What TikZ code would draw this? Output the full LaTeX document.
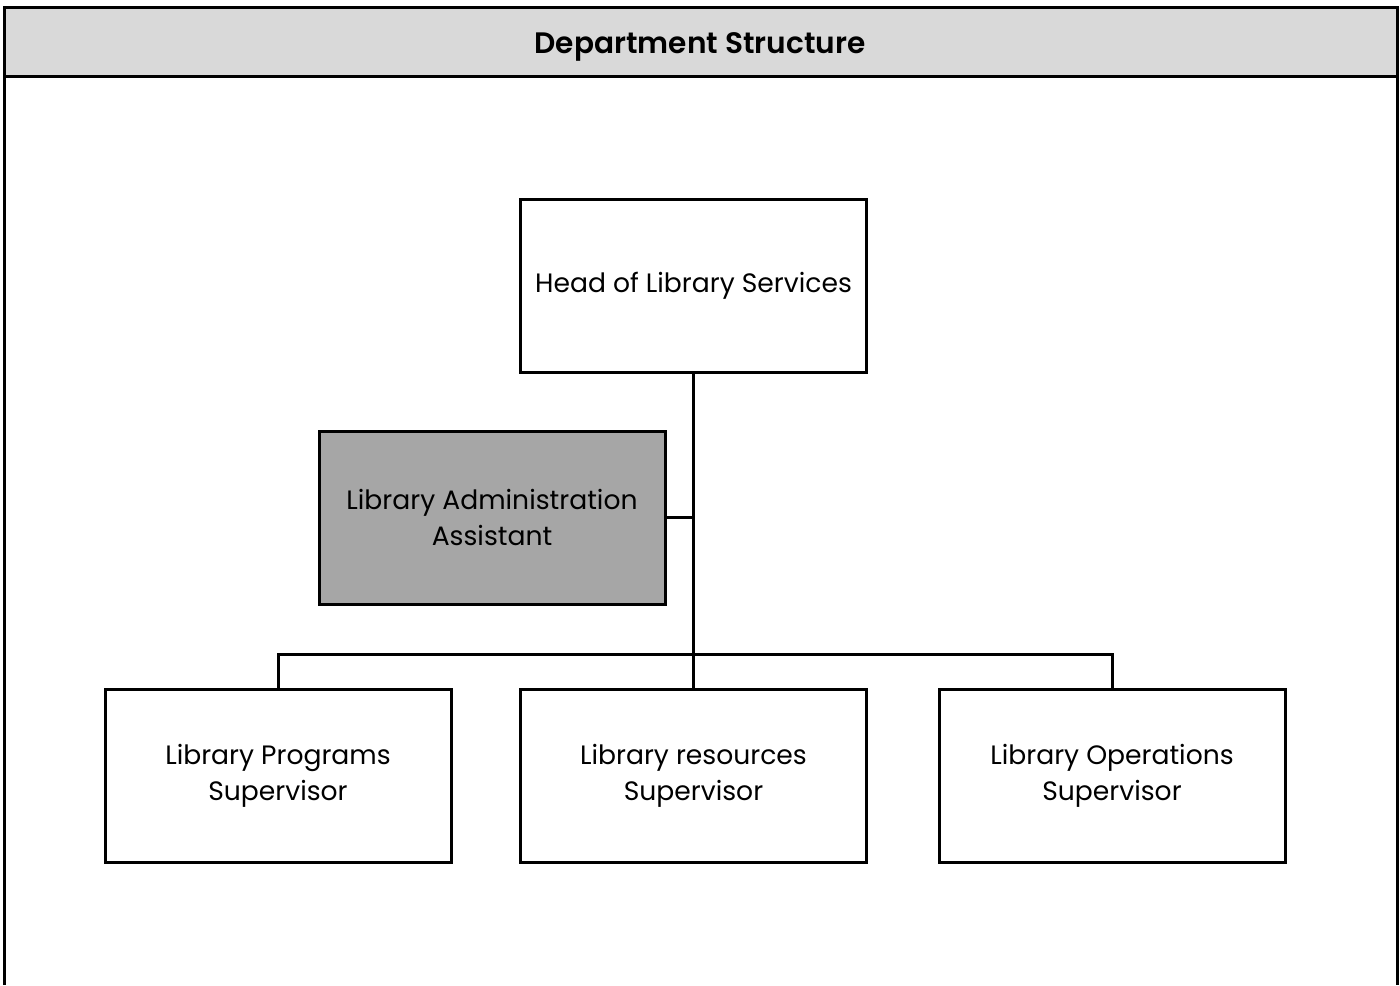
\documentclass[tikz,border=0pt]{standalone}
\usepackage{fontspec}
\setmainfont{Poppins}
\newfontfamily\titlefont{Poppins}[UprightFont=* SemiBold]
\definecolor{headfill}{HTML}{D9D9D9}
\definecolor{assistfill}{HTML}{A6A6A6}
\tikzset{
  role/.style={draw=black, line width=1.5pt, fill=white, align=center,
    minimum width=173pt, minimum height=86.5pt, inner sep=0pt,
    font=\fontsize{13.3pt}{18pt}\selectfont},
  assist/.style={role, fill=assistfill},
  link/.style={line width=1.5pt, line cap=rect},
  frameline/.style={line width=1.5pt}
}
\begin{document}
\begin{tikzpicture}[x=0.5pt, y=-0.5pt]
  \useasboundingbox (0,0) rectangle (1400,985);
  % header band and outer frame
  \fill[headfill] (4,7) rectangle (1397,76);
  \draw[frameline] (4,985) -- (4,7) -- (1397,7) -- (1397,985);
  \draw[frameline] (4,76) -- (1397,76);
  \node[font=\fontsize{14.8pt}{16pt}\titlefont] (title) at (700,47) {Department Structure};

  % roles
  \node[role] (head) at (693.5,285.5) {Head of Library Services};
  \node[assist] (admin) at (492,517.5) {Library Administration\\Assistant};
  \node[role] (prog) at (278,776) {Library Programs\\Supervisor};
  \node[role] (res) at (693.5,776) {Library resources\\Supervisor};
  \node[role] (ops) at (1112,776) {Library Operations\\Supervisor};

  % reporting lines
  \coordinate (bus) at (693.5,654);
  \draw[link] (head.south) -- (res.north);
  \draw[link] (admin.east) -- (admin.east -| head.south);
  \draw[link] (prog.north) -- (prog.north |- bus) -- (ops.north |- bus) -- (ops.north);
\end{tikzpicture}
\end{document}
